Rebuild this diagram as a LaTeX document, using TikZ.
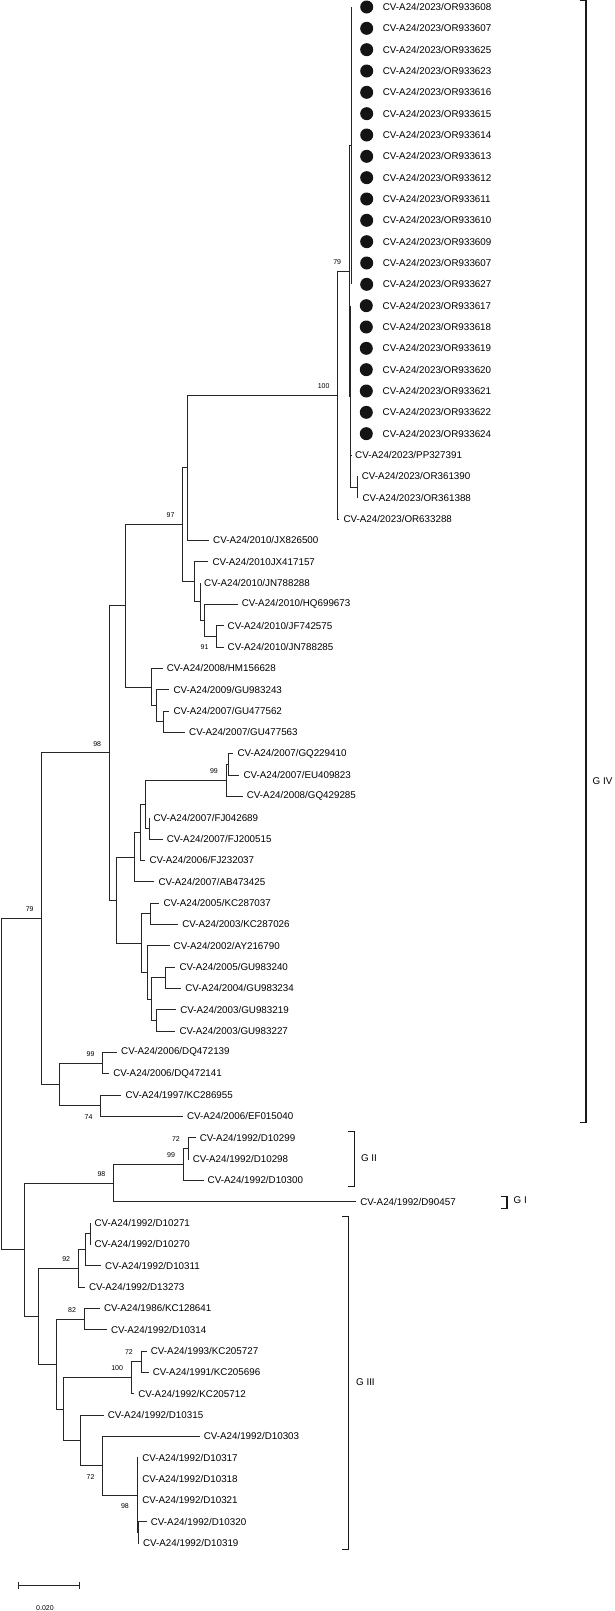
\documentclass[tikz,border=0pt]{standalone}
\usepackage{fontspec}
\setmainfont{Liberation Sans}
\usetikzlibrary{positioning}

\begin{document}
\begin{tikzpicture}[x=1pt, y=-21.3333pt,
  branch/.style={draw=black!85, line width=1pt},
  leaf/.style={anchor=west, inner xsep=4pt, inner ysep=0pt, font=\fontsize{9.8}{11}\selectfont},
  dot/.style={circle, fill=black!92, minimum size=13pt, inner sep=0pt},
  bsup/.style={anchor=east, inner sep=0pt, font=\fontsize{7}{8}\selectfont, xshift=-8pt, yshift=9.2pt},
  bsdown/.style={anchor=east, inner sep=0pt, font=\fontsize{7}{8}\selectfont, xshift=-8pt, yshift=-11pt},
  bracket/.style={draw=black!90, line width=1.1pt},
  grp/.style={inner sep=1pt, font=\fontsize{9.8}{11}\selectfont}]

% fix the page to the reference size
\useasboundingbox (0,0.671875) rectangle (614,76.1875);

% internal nodes of the tree (x in pt, y in rows)
\coordinate (root) at (1,51.488);
\coordinate (n79a) at (41.8,43.73);
\coordinate (n98a) at (109.3,35.965);
\coordinate (nGIVa) at (125,29.07);
\coordinate (n97) at (182.7,25.266);
\coordinate (n97u) at (187.3,22.594);
\coordinate (n100) at (337.7,19.1875);
\coordinate (n79b) at (349.3,13.375);
\coordinate (nA) at (351.7,7.5);
\coordinate (nB) at (350.5,19.25);
\coordinate (nC) at (357.3,23.5);
\coordinate (n2010a) at (194.3,27.9375);
\coordinate (n2010b) at (200,28.875);
\coordinate (n2010c) at (204.3,29.75);
\coordinate (n91) at (216.7,30.5);
\coordinate (n2008a) at (151.7,32.875);
\coordinate (n2008b) at (156.7,33.75);
\coordinate (n2008c) at (163.3,34.5);
\coordinate (n2007a) at (116.3,42.859);
\coordinate (nX) at (134.5,40.844);
\coordinate (nA2) at (140,39.6875);
\coordinate (nB2) at (145,38.375);
\coordinate (n99a) at (226,37.25);
\coordinate (n99b) at (228.3,36.5);
\coordinate (nFJ) at (149.3,39.5);
\coordinate (nY) at (141.7,44.875);
\coordinate (nY1) at (150,43.5);
\coordinate (nY2) at (147.6,46.25);
\coordinate (nZ) at (151.5,47.5);
\coordinate (nZ1) at (165.6,46.5);
\coordinate (nZ2) at (156.6,48.5);
\coordinate (nW) at (59.5,51.5);
\coordinate (n99c) at (102.6,50.5);
\coordinate (n74) at (100.6,52.5);
\coordinate (nR2) at (24.3,59.246);
\coordinate (n98b) at (113.5,56.125);
\coordinate (n99d) at (183.2,55.25);
\coordinate (n72a) at (188,54.5);
\coordinate (nGIII) at (38,62.367);
\coordinate (n92) at (78.3,60.125);
\coordinate (n92b) at (85.4,59.25);
\coordinate (n92c) at (90,58.5);
\coordinate (n3b) at (56.8,64.609);
\coordinate (n82) at (84.2,62.5);
\coordinate (n3c) at (63.4,66.719);
\coordinate (n100b) at (131.2,65.25);
\coordinate (n72b) at (141,64.5);
\coordinate (n3d) at (80.3,68.1875);
\coordinate (n72c) at (102.6,69.375);
\coordinate (n98c) at (137,70.75);
\coordinate (n3e) at (138.3,72.5);

% we join the internal nodes
\foreach \a/\b in {root/n79a, root/nR2, n79a/n98a, n79a/nW, n98a/nGIVa, n98a/n2007a,
    nGIVa/n97, nGIVa/n2008a, n97/n97u, n97/n2010a, n97u/n100, n100/n79b,
    n79b/nA, n79b/nB, nB/nC, n2010a/n2010b, n2010b/n2010c, n2010c/n91,
    n2008a/n2008b, n2008b/n2008c, n2007a/nX, n2007a/nY, nX/nA2, nA2/nB2,
    nB2/n99a, nB2/nFJ, n99a/n99b, nY/nY1, nY/nY2, nY2/nZ, nZ/nZ1, nZ/nZ2,
    nW/n99c, nW/n74, nR2/n98b, nR2/nGIII, n98b/n99d, n99d/n72a,
    nGIII/n92, nGIII/n3b, n92/n92b, n92b/n92c, n3b/n82, n3b/n3c,
    n3c/n100b, n3c/n3d, n100b/n72b, n3d/n72c, n72c/n98c, n98c/n3e}
  \draw[branch] (\a) |- (\b);

% the 2023 sequences of this study (marked)
\foreach \i/\acc in {1/OR933608, 2/OR933607, 3/OR933625, 4/OR933623, 5/OR933616,
    6/OR933615, 7/OR933614, 8/OR933613, 9/OR933612, 10/OR933611, 11/OR933610,
    12/OR933609, 13/OR933607, 14/OR933627}{
  \coordinate (t\i) at (351.7,\i);
  \node[dot] (d\i) at (366.7,\i) {};
  \node[leaf] (l\i) at (378.7,\i) {CV-A24/2023/\acc};
  \draw[branch] (nA) |- (t\i);
}
\foreach \i/\acc in {15/OR933617, 16/OR933618, 17/OR933619, 18/OR933620,
    19/OR933621, 20/OR933622, 21/OR933624}{
  \coordinate (t\i) at (350.5,\i);
  \node[dot] (d\i) at (366.3,\i) {};
  \node[leaf] (l\i) at (378.5,\i) {CV-A24/2023/\acc};
  \draw[branch] (nB) |- (t\i);
}

% reference sequences
\node[leaf] (l27) at (208.3,27) {CV-A24/2010JX417157};
\draw[branch] (n2010a) |- (l27.west);
\foreach \p/\px/\row/\yr/\acc in {nB/351/22/2023/PP327391, nC/357.7/23/2023/OR361390,
    nC/358.3/24/2023/OR361388, n100/339.3/25/2023/OR633288, n97u/209/26/2010/JX826500,
    n2010b/200/28/2010/JN788288, n2010c/237.7/29/2010/HQ699673, n91/223.5/30/2010/JF742575,
    n91/223.5/31/2010/JN788285, n2008a/162.7/32/2008/HM156628, n2008b/169.3/33/2009/GU983243,
    n2008c/169.3/34/2007/GU477562, n2008c/185/35/2007/GU477563, n99b/233.3/36/2007/GQ229410,
    n99b/239.3/37/2007/EU409823, n99a/242.7/38/2008/GQ429285, nFJ/149.3/39/2007/FJ042689,
    nFJ/162.7/40/2007/FJ200515, nA2/145.3/41/2006/FJ232037, nX/154.3/42/2007/AB473425,
    nY1/159.3/43/2005/KC287037, nY1/178.1/44/2003/KC287026, nY2/169.5/45/2002/AY216790,
    nZ1/175.3/46/2005/GU983240, nZ1/181.2/47/2004/GU983234, nZ2/176.1/48/2003/GU983219,
    nZ2/175.3/49/2003/GU983227, n99c/117/50/2006/DQ472139, n99c/109.2/51/2006/DQ472141,
    n74/121.3/52/1997/KC286955, n74/182.8/53/2006/EF015040}{
  \node[leaf] (l\row) at (\px,\row) {CV-A24/\yr/\acc};
  \draw[branch] (\p) |- (l\row.west);
}
\foreach \p/\px/\row/\yr/\acc in {n72a/195.7/54/1992/D10299, n72a/188.6/55/1992/D10298,
    n99d/203.5/56/1992/D10300, n98b/356.2/57/1992/D90457, n92c/90.4/58/1992/D10271,
    n92c/90.4/59/1992/D10270, n92b/101/60/1992/D10311, n92/84.9/61/1992/D13273,
    n82/99.8/62/1986/KC128641, n82/106.8/63/1992/D10314, n72b/146.7/64/1993/KC205727,
    n72b/148.7/65/1991/KC205696, n100b/134.2/66/1992/KC205712, n3d/103.7/67/1992/D10315,
    n72c/199.6/68/1992/D10303, n98c/138.1/69/1992/D10317, n98c/138.1/70/1992/D10318,
    n98c/138.1/71/1992/D10321, n3e/146.7/72/1992/D10320, n3e/138.9/73/1992/D10319}{
  \node[leaf] (l\row) at (\px,\row) {CV-A24/\yr/\acc};
  \draw[branch] (\p) |- (l\row.west);
}

% bootstrap values
\node[bsup] (b100) at (n100) {100};
\node[bsup] (b79b) at (n79b) {79};
\node[bsup] (b97) at (n97) {97};
\node[bsdown] (b91) at (n91) {91};
\node[bsup] (b98a) at (n98a) {98};
\node[bsup] (b99a) at (n99a) {99};
\node[bsup] (b79a) at (n79a) {79};
\node[bsup] (b99c) at (n99c) {99};
\node[bsdown] (b74) at (n74) {74};
\node[bsup] (b72a) at (n72a) {72};
\node[bsup] (b99d) at (n99d) {99};
\node[bsup] (b98b) at (n98b) {98};
\node[bsup] (b92) at (n92) {92};
\node[bsup] (b82) at (n82) {82};
\node[bsup] (b100b) at (n100b) {100};
\node[bsup] (b72b) at (n72b) {72};
\node[bsdown] (b72c) at (n72c) {72};
\node[bsdown] (b98c) at (n98c) {98};

% genotype brackets
\coordinate (g4t) at (586,0.7);
\coordinate (g4b) at (586,53.3);
\coordinate (g4m) at (586,37.3);
\draw[bracket] ([xshift=-6.5pt]g4t) -- (g4t) -- (g4b) -- ([xshift=-6.5pt]g4b);
\node[grp, right=5.5pt of g4m] (lg4) {G IV};

\coordinate (g2t) at (354.3,53.72);
\coordinate (g2b) at (354.3,56.3);
\coordinate (g2m) at (354.3,54.95);
\draw[bracket] ([xshift=-6.5pt]g2t) -- (g2t) -- (g2b) -- ([xshift=-6.5pt]g2b);
\node[grp, right=5.5pt of g2m] (lg2) {G II};

\coordinate (g1t) at (507,56.74);
\coordinate (g1b) at (507,57.31);
\coordinate (g1m) at (507,56.95);
\draw[bracket] ([xshift=-6.5pt]g1t) -- (g1t) -- (g1b) -- ([xshift=-6.5pt]g1b);
\node[grp, right=5.5pt of g1m] (lg1) {G I};

\coordinate (g3t) at (348.5,57.7);
\coordinate (g3b) at (348.5,73.3);
\coordinate (g3m) at (348.5,65.45);
\draw[bracket] ([xshift=-6.5pt]g3t) -- (g3t) -- (g3b) -- ([xshift=-6.5pt]g3b);
\node[grp, right=6.5pt of g3m] (lg3) {G III};

% scale bar
\coordinate (sbl) at (18.3,75);
\coordinate (sbr) at (79,75);
\draw[branch] (sbl) -- (sbr);
\draw[branch] ([yshift=3.5pt]sbl) -- ([yshift=-3.5pt]sbl);
\draw[branch] ([yshift=3.5pt]sbr) -- ([yshift=-3.5pt]sbr);
\node[inner sep=0pt, font=\fontsize{7}{8}\selectfont] (sblab) at (45,76.06) {0.020};

\end{tikzpicture}
\end{document}
